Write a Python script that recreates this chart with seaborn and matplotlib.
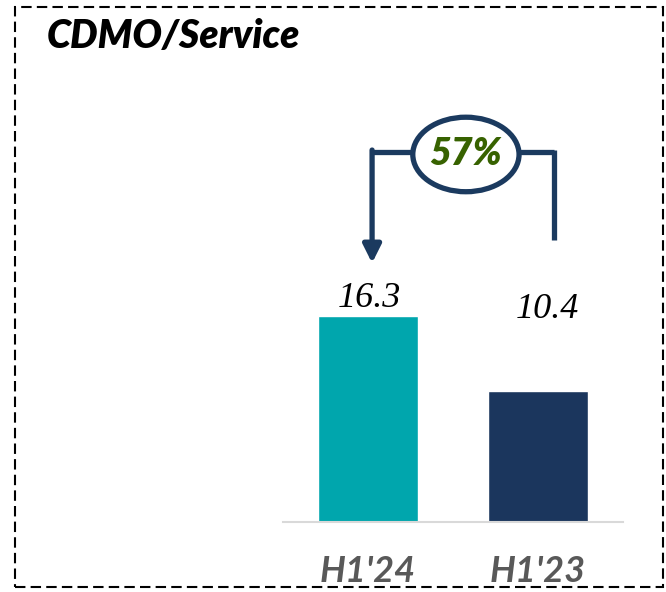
import matplotlib
matplotlib.use("Agg")
import matplotlib.pyplot as plt
import seaborn as sns
import pandas as pd
from matplotlib.patches import Ellipse, Rectangle

# Data
categories = ["H1'24", "H1'23"]
values = [16.3, 10.4]
value_labels = ["16.3", "10.4"]
growth_label = "57%"
title = "CDMO/Service"
colors = ["#00A6AD", "#1B365D"]

sns.set_theme(style="white")
plt.rcParams['font.family'] = ['Lato', 'DejaVu Sans']

W, H = 666, 592
fig = plt.figure(figsize=(W / 100, H / 100), dpi=100)

# axes: baseline at y=522px, x from 283 to 623 px, top at 100 px
ax_l, ax_r, ax_b, ax_t = 283, 623, 522, 100
ax = fig.add_axes([ax_l / W, (H - ax_b) / H, (ax_r - ax_l) / W, (ax_b - ax_t) / H])
px_per_unit = 12.63
ymax = (ax_b - ax_t) / px_per_unit

df = pd.DataFrame({"cat": categories, "val": values})
sns.barplot(data=df, x="cat", y="val", hue="cat", palette=colors, width=100 / 170,
            legend=False, ax=ax, saturation=1)
ax.set_xlim(-0.5, 1.5)
ax.set_ylim(0, ymax)
ax.set_xlabel("")
ax.set_ylabel("")
ax.set_yticks([])
for s in ["top", "left", "right"]:
    ax.spines[s].set_visible(False)
ax.spines["bottom"].set_color("#D9D9D9")
ax.spines["bottom"].set_linewidth(1.5)
ax.tick_params(axis="x", length=0, pad=24)
for lbl in ax.get_xticklabels():
    lbl.set_fontsize(26)
    lbl.set_fontweight("bold")
    lbl.set_fontstyle("italic")
    lbl.set_color("#595959")
    lbl.set_family(["Lato", "DejaVu Sans"])

# value labels
label_offsets = [(0.006, 1.4), (0.053, 6.4)]
for i, (v, t) in enumerate(zip(values, value_labels)):
    dx, dy = label_offsets[i]
    ax.text(i + dx, v + dy, t, ha="center", va="center", fontsize=26,
            fontstyle="italic", family=["Liberation Serif"], color="black")

# growth bracket
navy = "#1B3A5F"
lw = 3.8
y_top = 29.3
xl, xr = 0.024, 1.094
ex, ey, ew, eh = 0.576, 29.1, 0.625, 5.9
ax.plot([xl, ex - ew / 2], [y_top, y_top], color=navy, lw=lw, solid_capstyle="butt", clip_on=False)
ax.plot([ex + ew / 2, xr], [y_top, y_top], color=navy, lw=lw, solid_capstyle="butt", clip_on=False)
ax.plot([xr, xr], [y_top + 0.15, values[1] + 11.9], color=navy, lw=lw, solid_capstyle="butt", clip_on=False)
ax.annotate("", xy=(xl, values[0] + 4.2), xytext=(xl, y_top + 0.15),
            arrowprops=dict(arrowstyle="-|>,head_length=0.9,head_width=0.45", color=navy, lw=lw,
                            shrinkA=0, shrinkB=0), annotation_clip=False)
ell = Ellipse((ex, ey), ew, eh, facecolor="white", edgecolor=navy, lw=lw, clip_on=False, zorder=5)
ax.add_patch(ell)
ax.text(ex, ey, growth_label, ha="center", va="center", fontsize=27, fontweight="heavy",
        fontstyle="italic", color="#376200", zorder=6, family=["Lato", "DejaVu Sans"])

# title
fig.text(47 / W, 1 - 37 / H, title, ha="left", va="center", fontsize=28, fontweight="heavy",
         fontstyle="italic", color="black", family=["Lato", "DejaVu Sans"])

# dashed border
border = Rectangle((15 / W, 1 - 587 / H), (663 - 15) / W, (587 - 7) / H, transform=fig.transFigure,
                   fill=False, edgecolor="black", lw=1.5, linestyle=(0, (5, 2.5)))
fig.patches.append(border)

fig.savefig("out.png", dpi=100)
